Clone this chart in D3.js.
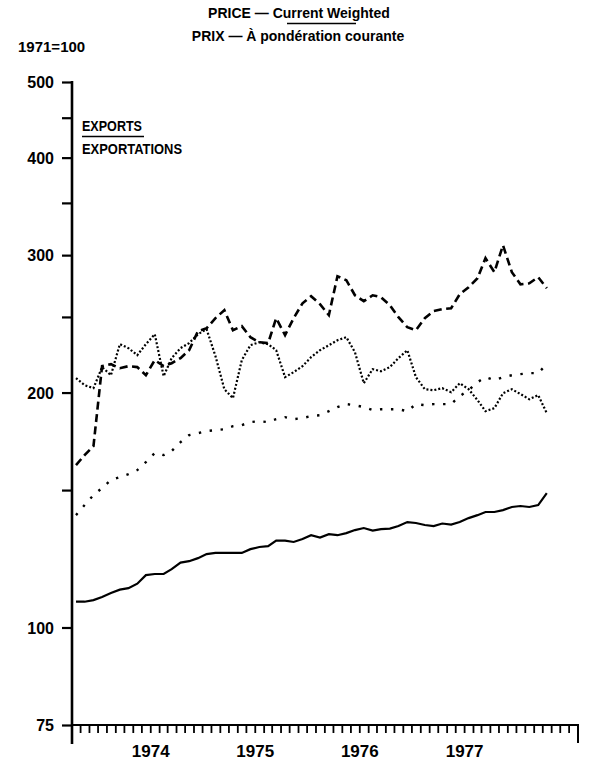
<!DOCTYPE html>
<html>
<head>
<meta charset="utf-8">
<script src="https://cdn.jsdelivr.net/npm/d3@7"></script>
<style>
  body { margin: 0; background: #fff; }
  text { font-family: "Liberation Sans", Arial, sans-serif; font-weight: bold; fill: #000; }
</style>
</head>
<body>
<div id="chart"></div>
<script>
// Monthly price indexes, Apr 1973 to Oct 1977 (1971=100)
const firstYear = 1973, firstMonth = 3;

const solidValues = [107.9, 107.9, 108.4, 109.4, 110.7, 111.8, 112.3, 113.8, 116.7, 117.1, 117.1, 118.8,
    121.1, 121.6, 122.7, 124.2, 124.6, 124.6, 124.6, 124.6, 126.0, 126.8, 127.1, 129.2,
    129.2, 128.7, 129.8, 131.3, 130.4, 131.7, 131.3, 132.1, 133.3, 134.1, 133.1, 133.7,
    133.9, 134.9, 136.5, 136.1, 135.3, 134.9, 135.9, 135.5, 136.5, 138.1, 139.3, 140.6,
    140.6, 141.4, 142.7, 143.1, 142.7, 143.5, 148.7];

const dashedValues = [161.5, 166.3, 170.8, 216.2, 217.5, 214.9, 216.2, 215.6, 210.5, 220.1, 216.2, 218.1,
    221.4, 226.6, 239.7, 241.8, 249.1, 255.0, 240.4, 243.3, 235.5, 232.0, 231.4, 249.1,
    236.9, 249.1, 260.3, 265.8, 259.6, 251.3, 281.9, 278.6, 266.5, 261.9, 266.5, 265.0,
    258.8, 249.8, 242.5, 240.4, 249.1, 254.3, 255.8, 256.5, 267.3, 272.9, 280.3, 297.3,
    285.3, 308.9, 285.3, 275.3, 276.1, 281.1, 272.1];

const denseDotValues = [208.7, 204.4, 202.6, 215.6, 210.5, 230.7, 228.0, 223.3, 230.7, 237.6, 209.9, 221.4,
    228.0, 231.4, 237.6, 241.1, 222.7, 202.0, 196.7, 220.1, 230.0, 232.0, 230.7, 226.6,
    209.3, 212.4, 216.2, 222.0, 226.6, 230.0, 233.4, 235.5, 225.3, 205.6, 214.3, 213.0,
    215.6, 221.4, 226.6, 209.3, 202.0, 201.4, 202.6, 200.2, 205.6, 202.0, 195.6, 189.3,
    191.0, 199.6, 202.0, 199.1, 196.1, 198.5, 188.2];

const sparseDotValues = [139.3, 143.5, 147.8, 150.9, 154.5, 155.9, 157.2, 159.1, 162.9, 167.3, 166.3, 168.3,
    172.8, 176.4, 177.4, 178.5, 179.0, 179.5, 181.1, 181.7, 183.3, 183.8, 183.3, 184.9,
    186.0, 184.9, 185.5, 186.6, 187.1, 189.3, 191.6, 193.3, 192.7, 191.6, 189.9, 190.4,
    190.4, 190.4, 189.3, 193.3, 192.7, 193.3, 193.3, 193.3, 197.9, 201.4, 206.2, 209.3,
    207.5, 209.3, 210.5, 211.2, 211.8, 211.8, 217.5];

const yTicks = [75, 100, 150, 200, 250, 300, 350, 400, 450, 500];
const yLabels = [75, 100, 200, 300, 400, 500];
const yearLabels = [1974, 1975, 1976, 1977];

let width = 607,
    height = 766;

let svg = d3.select("#chart")
    .append("svg")
    .attr("width", width)
    .attr("height", height);

// Scales
let x = d3.scaleTime()
    .domain([new Date(1973, 3, 1), new Date(1978, 1, 1)])
    .range([72, 578]);

let y = d3.scaleLog()
    .domain([75, 500])
    .range([725, 82]);

// Titles
svg.append("text")
    .attr("x", 299)
    .attr("y", 18)
    .attr("text-anchor", "middle")
    .style("font-size", "14px")
    .text("PRICE — Current Weighted");

svg.append("text")
    .attr("x", 298)
    .attr("y", 41)
    .attr("text-anchor", "middle")
    .style("font-size", "14px")
    .text("PRIX — À pondération courante");

// underline under "Current"
svg.append("line")
    .attr("x1", 287).attr("x2", 356)
    .attr("y1", 23.5).attr("y2", 23.5)
    .attr("stroke", "black").attr("stroke-width", 1.3);

svg.append("text")
    .attr("x", 18)
    .attr("y", 52)
    .style("font-size", "15px")
    .text("1971=100");

// Y axis
svg.append("g")
    .attr("transform", "translate(72,0)")
    .call(d3.axisLeft(y)
        .tickValues(yTicks)
        .tickSize(10)
        .tickSizeOuter(0)
        .tickPadding(8)
        .tickFormat(d => yLabels.includes(d) ? d : ""))
    .call(g => g.select(".domain").remove())
    .call(g => g.selectAll("line").attr("stroke", "black").attr("stroke-width", 2.2))
    .call(g => g.selectAll("text").style("font-size", "16px").attr("dy", "0.35em"));

svg.append("line")
    .attr("x1", 72).attr("x2", 72)
    .attr("y1", y(500) - 1).attr("y2", 744)
    .attr("stroke", "black").attr("stroke-width", 2.6);

// X axis
svg.append("line")
    .attr("x1", 71).attr("x2", 579)
    .attr("y1", 725).attr("y2", 725)
    .attr("stroke", "black").attr("stroke-width", 2.2);

let months = d3.timeMonth.range(new Date(1973, 4, 1), new Date(1978, 1, 1));
svg.append("g")
    .selectAll("line")
    .data(months)
    .enter()
    .append("line")
    .attr("x1", d => x(d)).attr("x2", d => x(d))
    .attr("y1", 725)
    .attr("y2", 733)
    .attr("stroke", "black")
    .attr("stroke-width", 1.8);

svg.append("line")
    .attr("x1", x(new Date(1978, 1, 1))).attr("x2", x(new Date(1978, 1, 1)))
    .attr("y1", 725).attr("y2", 743)
    .attr("stroke", "black").attr("stroke-width", 2);

svg.append("g")
    .selectAll("text")
    .data(yearLabels)
    .enter()
    .append("text")
    .attr("x", d => x(new Date(d, 0, 1)))
    .attr("y", 757)
    .attr("text-anchor", "middle")
    .style("font-size", "17px")
    .text(d => d);

// Series label
svg.append("text")
    .attr("x", 82)
    .attr("y", 131)
    .attr("textLength", 60)
    .attr("lengthAdjust", "spacingAndGlyphs")
    .style("font-size", "15px")
    .text("EXPORTS");

svg.append("line")
    .attr("x1", 82).attr("x2", 144)
    .attr("y1", 136.5).attr("y2", 136.5)
    .attr("stroke", "black").attr("stroke-width", 1.5);

svg.append("text")
    .attr("x", 82)
    .attr("y", 154)
    .attr("textLength", 100)
    .attr("lengthAdjust", "spacingAndGlyphs")
    .style("font-size", "15px")
    .text("EXPORTATIONS");

// Lines
let line = d3.line()
    .x((d, i) => x(new Date(firstYear, firstMonth + i, 15)))
    .y(d => y(d));

svg.append("path")
    .datum(sparseDotValues)
    .attr("fill", "none")
    .attr("stroke", "black")
    .attr("stroke-width", 2.4)
    .attr("stroke-dasharray", "2.4,8.6")
    .attr("d", line);

svg.append("path")
    .datum(denseDotValues)
    .attr("fill", "none")
    .attr("stroke", "black")
    .attr("stroke-width", 2.2)
    .attr("stroke-dasharray", "2,2")
    .attr("d", line);

svg.append("path")
    .datum(dashedValues)
    .attr("fill", "none")
    .attr("stroke", "black")
    .attr("stroke-width", 2.6)
    .attr("stroke-dasharray", "8,4.5")
    .attr("d", line);

svg.append("path")
    .datum(solidValues)
    .attr("fill", "none")
    .attr("stroke", "black")
    .attr("stroke-width", 2.2)
    .attr("d", line);
</script>
</body>
</html>
